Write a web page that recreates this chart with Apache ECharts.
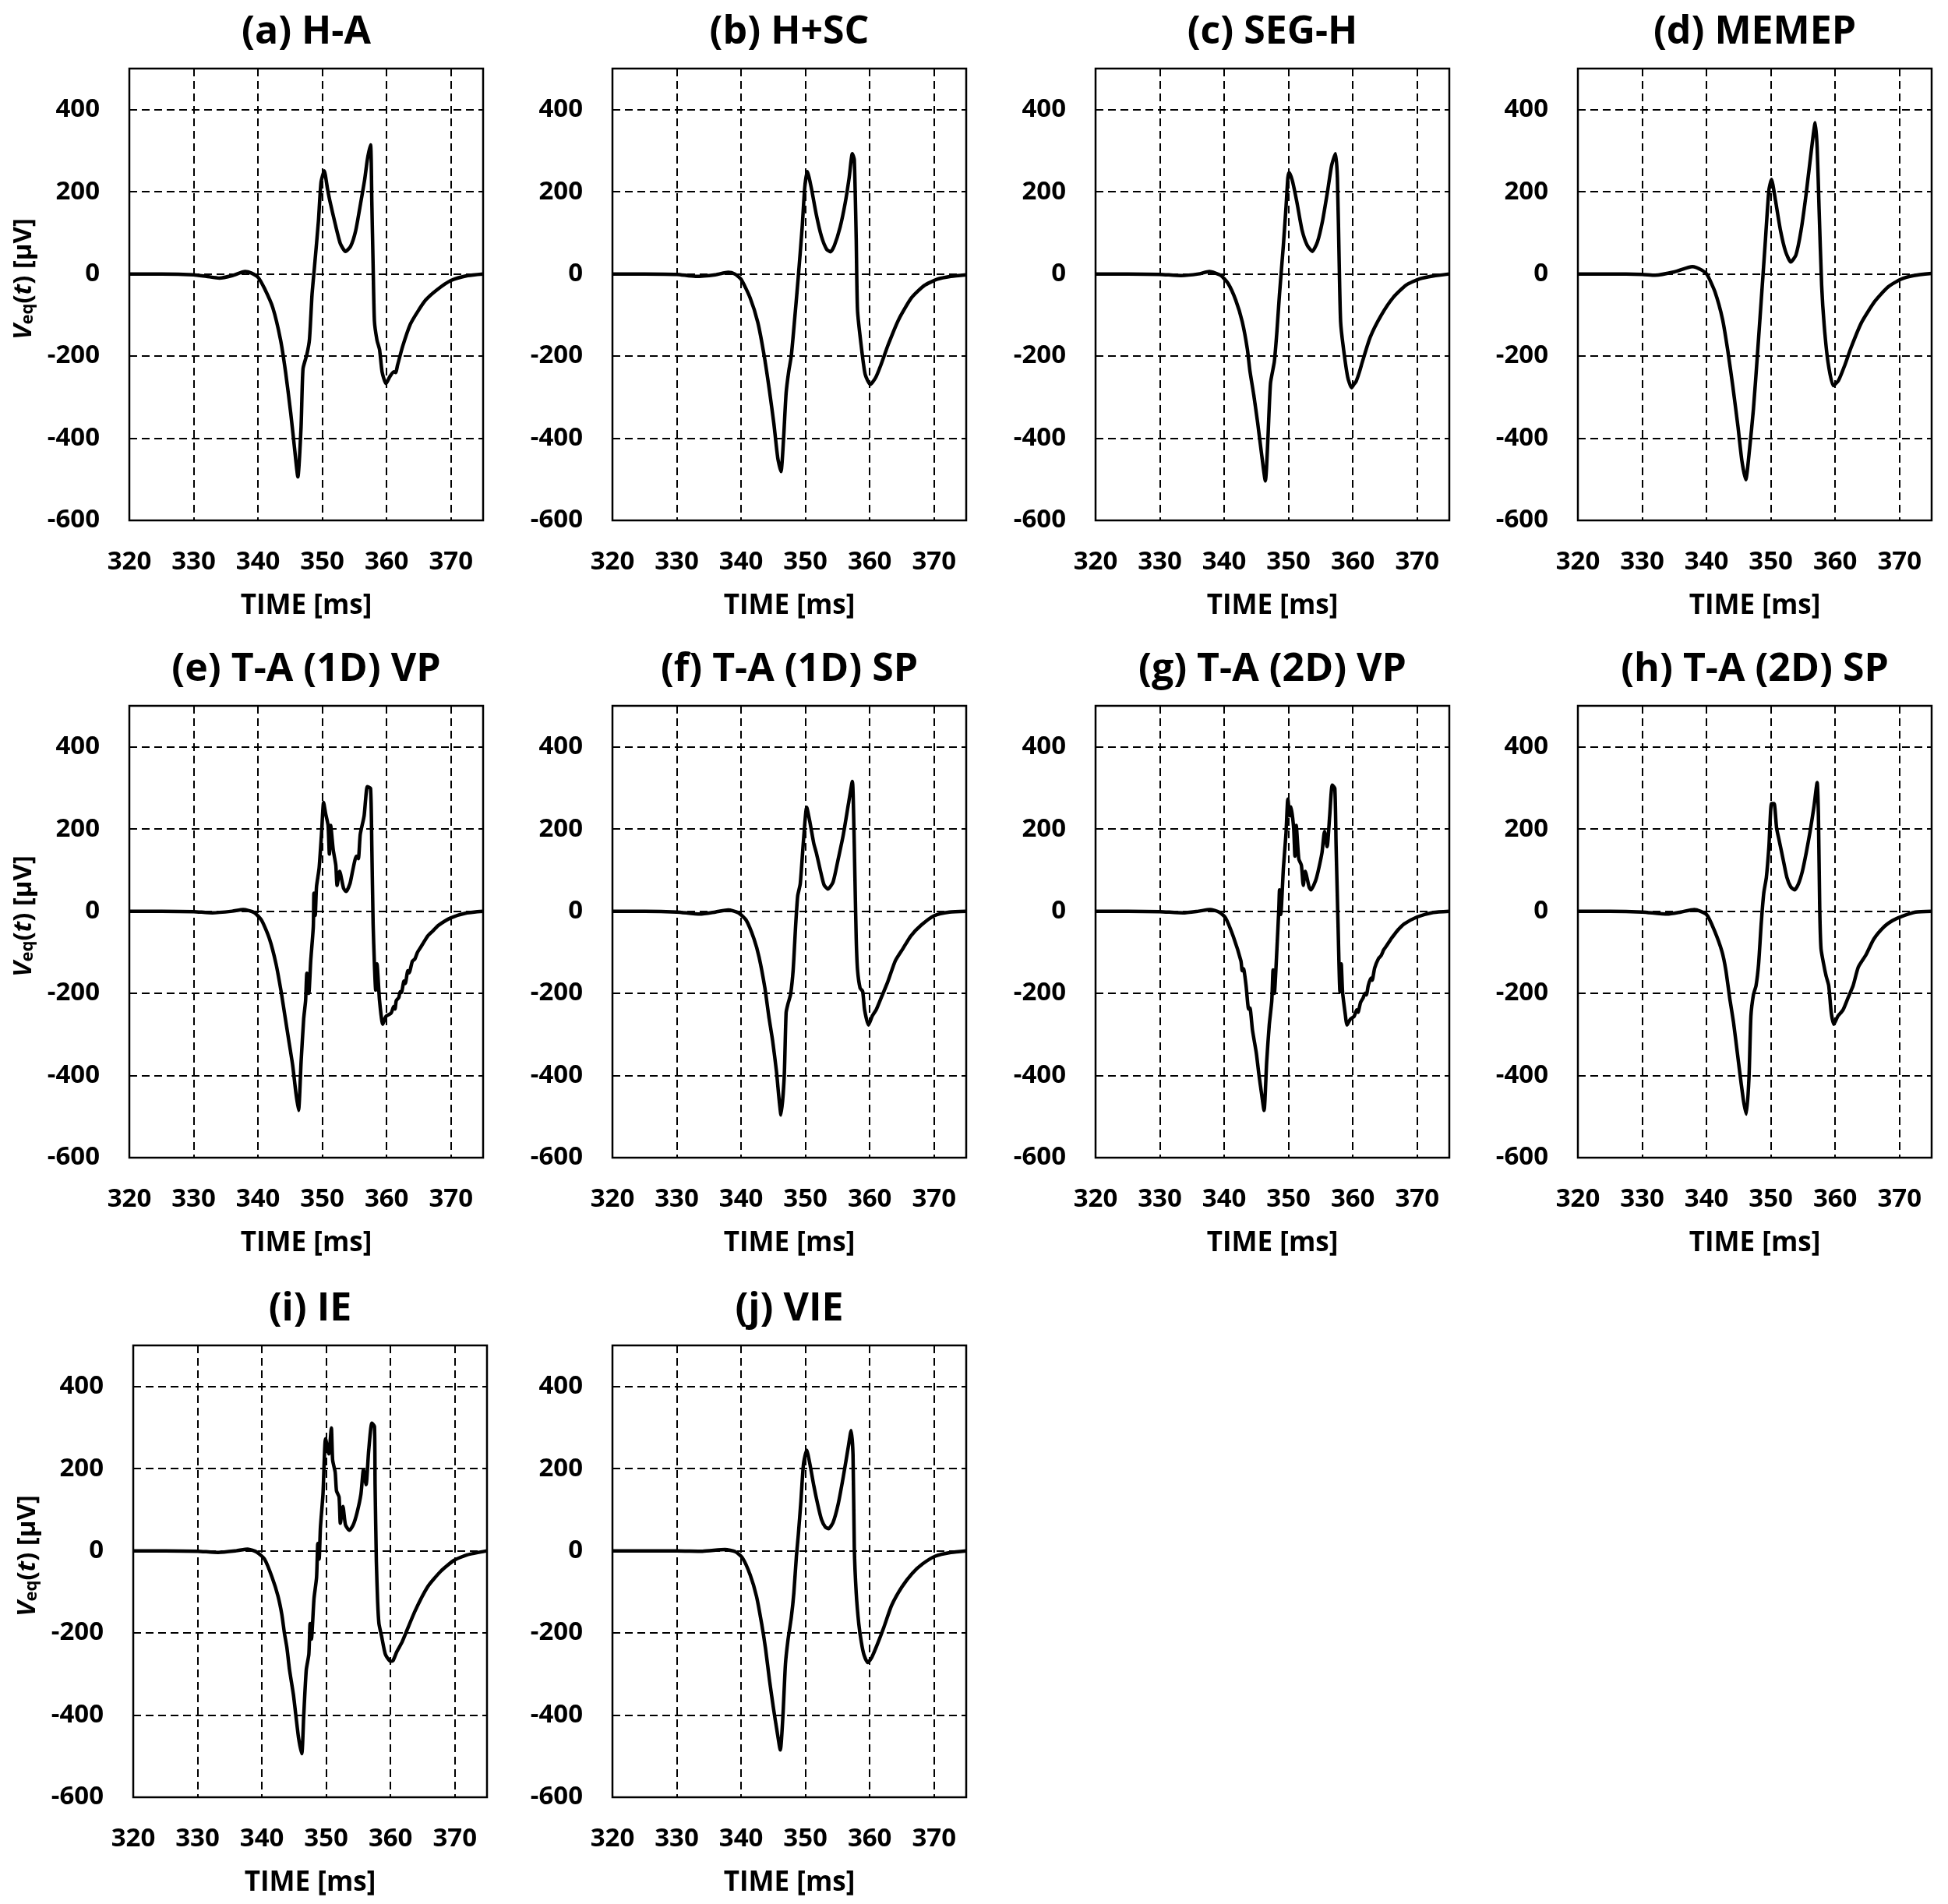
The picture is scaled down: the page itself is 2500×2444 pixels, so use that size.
<!DOCTYPE html>
<html>
<head>
<meta charset="utf-8">
<title>Veq(t) waveforms</title>
<script src="https://cdn.jsdelivr.net/npm/echarts@6/dist/echarts.min.js"></script>
<style>
    html, body { margin: 0; padding: 0; background: #fff; }
    #main { width: 2500px; height: 2444px; }
</style>
</head>
<body>
<div id="main"></div>
<script>
    // tick labels
    var xTicks = [320, 330, 340, 350, 360, 370];
    var yTicks = [-600, -400, -200, 0, 200, 400];

    var panelTitles = ['(a) H-A', '(b) H+SC', '(c) SEG-H', '(d) MEMEP',
        '(e) T-A (1D) VP', '(f) T-A (1D) SP', '(g) T-A (2D) VP', '(h) T-A (2D) SP',
        '(i) IE', '(j) VIE'];

    // waveforms: [time ms, Veq uV]
    var wHA = [[320,0],[325,0],[330,-2],[332,-6],[334,-10],[336,-4],[338,6],[339,2],[340,-8],[341,-35],
        [342.3,-82],[343.5,-160],[344.3,-240],[345.1,-340],[345.7,-427],[346.2,-494],[346.7,-372],[347,-231],
        [347.6,-196],[348,-160],[348.4,-51],[348.8,20],[349.4,129],[349.8,223],[350.3,251],[350.8,208],
        [351.2,176],[352,122],[352.8,74],[353.6,55],[354.4,67],[355.2,106],[356,176],[356.6,231],[357,278],
        [357.5,314],[357.7,176],[357.9,20],[358.1,-114],[358.5,-161],[358.9,-184],[359.3,-239],[359.9,-267],
        [360.5,-250],[361.1,-238],[361.4,-240],[361.7,-222],[362.5,-176],[363.7,-122],[364.9,-90],
        [366.1,-63],[367.8,-39],[370,-16],[372.6,-4],[375,0]];

    var wHSC = [[320,0],[325,0],[330,-1],[332.9,-6],[336,-2],[338,4],[339,0],[340,-13],[341.4,-58],
        [342.6,-118],[343.6,-200],[344.4,-283],[345.1,-365],[345.7,-448],[346.2,-481],[346.6,-402],
        [347,-290],[347.4,-238],[347.8,-200],[348.2,-133],[348.9,-6],[349.5,114],[349.9,211],[350.3,249],
        [350.9,211],[351.7,144],[352.5,91],[353.3,60],[353.9,54],[354.5,69],[355.4,114],[356.2,174],
        [356.8,234],[357.3,293],[357.6,278],[357.9,84],[358.1,-88],[358.7,-178],[359.3,-245],[360.1,-269],
        [360.9,-253],[361.7,-223],[362.9,-171],[364.5,-111],[366.5,-58],[368.5,-28],[370.5,-13],
        [372.6,-6],[375,-2]];

    var wSEGH = [[320,0],[325,0],[330,-1],[333.3,-4],[336,0],[337.7,6],[339.4,-3],[340.6,-23],[341.8,-64],
        [342.8,-116],[343.6,-183],[344,-236],[344.6,-295],[345.2,-362],[345.8,-437],[346.4,-504],
        [346.8,-400],[347.2,-266],[347.8,-213],[348.2,-139],[348.6,-49],[349.2,70],[349.6,160],[349.9,234],
        [350.1,247],[350.6,227],[351.3,175],[352.1,107],[352.9,70],[353.7,55],[354.5,78],[355.3,130],
        [356.1,204],[356.7,264],[357.3,293],[357.6,234],[357.9,10],[358.1,-116],[358.5,-176],[359.2,-251],
        [359.8,-277],[360.2,-268],[360.5,-262],[361,-240],[361.5,-213],[362.7,-154],[364.4,-101],
        [366.3,-57],[368.3,-27],[370.4,-12],[372.5,-5],[375,0]];

    var wMEMEP = [[320,0],[325,0],[330,-1],[332,-3],[335,5],[337.8,18],[339.3,9],[340.1,-2],[341.3,-43],
        [342.5,-111],[343.3,-186],[344.1,-275],[344.9,-373],[345.5,-455],[346.1,-501],[346.7,-425],
        [347.3,-328],[347.9,-200],[348.5,-66],[349.1,69],[349.7,204],[350.1,230],[350.7,181],[351.5,106],
        [352.3,54],[353.1,29],[353.9,46],[354.7,106],[355.5,196],[356.3,301],[356.9,368],[357.2,308],
        [357.5,159],[357.9,-28],[358.3,-126],[358.9,-216],[359.7,-272],[360.5,-260],[361.5,-222],
        [362.5,-178],[364.1,-118],[366.2,-66],[368.2,-32],[370.2,-13],[372.2,-4],[375,1]];

    var wTA1VP = [[320,0],[325,0],[330,-1],[332.9,-4],[336,0],[337.7,4],[339.4,-3],[340.6,-23],[341.8,-68],
        [342.8,-128],[343.6,-196],[344.2,-256],[344.8,-316],[345.4,-376],[345.9,-443],[346.3,-485],
        [346.7,-368],[347.1,-263],[347.4,-218],[347.6,-151],[347.9,-200],[348.2,-121],[348.6,-38],
        [348.7,44],[348.9,-10],[349.1,60],[349.5,104],[349.9,194],[350.2,265],[350.5,239],[350.9,209],
        [351.1,139],[351.3,209],[351.7,149],[352.1,112],[352.3,63],[352.7,97],[353.3,56],[353.7,48],
        [354.3,67],[354.7,97],[355.3,134],[355.6,128],[355.9,187],[356.5,232],[357,303],[357.5,299],
        [357.7,157],[357.9,-31],[358.1,-128],[358.3,-192],[358.5,-128],[358.9,-218],[359.4,-275],
        [359.9,-256],[360.7,-248],[361.1,-232],[361.3,-238],[361.5,-218],[361.9,-210],[362.1,-196],
        [362.3,-198],[362.7,-170],[362.9,-176],[363.3,-145],[363.5,-150],[364,-122],[364.4,-116],
        [364.8,-100],[365.2,-90],[365.6,-80],[366.4,-60],[367.2,-48],[368,-35],[370,-16],[372.5,-4],[375,0]];

    var wTA1SP = [[320,0],[325,0],[330,-2],[333.6,-7],[336,-2],[338,3],[339.6,-4],[340.8,-22],[342,-67],
        [342.8,-112],[343.7,-187],[344.3,-255],[344.9,-315],[345.5,-390],[345.9,-457],[346.2,-496],
        [346.7,-405],[347,-247],[347.3,-225],[347.7,-202],[348.1,-142],[348.5,-30],[348.8,37],[349.2,67],
        [349.7,172],[350.2,253],[350.7,217],[351.3,165],[351.7,142],[352.3,101],[352.9,64],[353.5,54],
        [354.3,71],[355.1,127],[355.9,187],[356.7,262],[357.3,316],[357.5,232],[357.7,82],[357.9,-67],
        [358.1,-142],[358.5,-187],[358.9,-195],[359.2,-240],[359.8,-277],[360.4,-255],[361,-240],
        [361.8,-210],[362.8,-172],[364,-120],[365.2,-90],[366.4,-60],[368,-34],[370,-11],[372.4,-2],[375,0]];

    var wTA2VP = [[320,0],[325,0],[330,-1],[333.6,-4],[336,0],[337.8,4],[339.2,-2],[340.2,-16],[341.4,-61],
        [342.6,-121],[342.8,-145],[343,-140],[343.4,-181],[343.8,-238],[344,-236],[344.4,-290],[345,-346],
        [345.4,-398],[345.8,-443],[346.2,-485],[346.6,-368],[347,-278],[347.4,-218],[347.6,-143],
        [347.8,-200],[348.2,-91],[348.5,7],[348.6,52],[348.8,-8],[349.2,104],[349.6,187],[349.9,273],
        [350.2,232],[350.4,254],[350.8,202],[351,134],[351.2,209],[351.6,127],[352,112],[352.3,63],
        [352.6,97],[353.2,59],[353.5,52],[354.2,74],[354.6,97],[355.2,142],[355.6,194],[356,157],
        [356.4,232],[356.8,307],[357.2,299],[357.4,157],[357.7,-31],[358,-196],[358.2,-128],[358.4,-196],
        [358.8,-248],[359.1,-277],[359.6,-263],[360.2,-256],[360.6,-240],[360.8,-246],[361.2,-222],
        [361.6,-211],[361.9,-200],[362.1,-204],[362.4,-181],[362.8,-163],[363,-168],[363.4,-138],
        [364,-115],[364.4,-108],[364.8,-94],[365.2,-85],[366,-66],[366.4,-58],[367,-46],[368,-31],
        [370,-14],[372.5,-3],[375,0]];

    var wTA2SP = [[320,0],[325,0],[330,-2],[333.9,-7],[336,-2],[338.1,4],[340,-8],[341.2,-46],[342.4,-98],
        [343,-143],[343.6,-211],[344.2,-271],[344.8,-346],[345.4,-421],[345.8,-466],[346.2,-494],
        [346.6,-406],[346.9,-256],[347.3,-203],[347.7,-181],[348.1,-128],[348.5,-31],[348.9,44],
        [349.3,82],[349.7,157],[350.1,262],[350.5,262],[350.9,202],[351.3,172],[351.9,127],[352.5,82],
        [353.1,59],[353.7,52],[354.3,67],[354.9,97],[355.5,142],[356.1,194],[356.7,254],[357.2,313],
        [357.4,232],[357.6,7],[357.8,-91],[358.2,-128],[358.6,-158],[359,-181],[359.4,-248],[359.8,-275],
        [360.4,-256],[361.2,-241],[362,-211],[362.8,-181],[363.6,-136],[364.8,-106],[366,-68],
        [367.6,-38],[368.9,-23],[370.1,-14],[372.5,-2],[375,0]];

    var wIE = [[320,0],[325,0],[330,-1],[333.2,-4],[336,0],[337.8,4],[339.2,-3],[340.4,-20],[341.6,-65],
        [342.5,-110],[343.1,-155],[343.5,-200],[343.9,-237],[344.3,-290],[344.9,-350],[345.3,-403],
        [345.7,-455],[346.2,-494],[346.5,-403],[346.9,-290],[347.3,-252],[347.5,-177],[347.7,-215],
        [348.1,-117],[348.5,-65],[348.7,18],[348.9,-20],[349.1,56],[349.5,138],[349.9,273],[350.4,236],
        [350.8,299],[351,221],[351.4,191],[351.6,146],[352,131],[352.2,67],[352.6,108],[353,63],
        [353.6,50],[354.2,63],[354.8,93],[355.4,138],[355.8,198],[356.2,161],[356.6,243],[357.1,311],
        [357.5,303],[357.6,161],[357.8,-27],[358,-125],[358.2,-177],[358.6,-207],[359.2,-252],[360,-269],
        [360.4,-267],[361,-245],[361.8,-222],[363.8,-147],[365.8,-87],[367.8,-50],[369.9,-23],
        [371.9,-10],[375,0]];

    var wVIE = [[320,0],[325,0],[330,0],[334,-1],[337.5,3],[339.1,-2],[340.2,-17],[341.4,-58],[342.4,-111],
        [343.2,-178],[343.8,-238],[344.4,-313],[345,-380],[345.6,-440],[346.1,-485],[346.5,-403],
        [346.9,-275],[347.3,-216],[347.8,-163],[348.2,-103],[348.6,-13],[348.9,39],[349.3,121],
        [349.7,211],[350.2,245],[350.7,211],[351.3,159],[351.9,114],[352.5,76],[353.1,58],[353.6,54],
        [354.3,69],[355.1,114],[355.9,181],[356.7,256],[357.1,293],[357.4,234],[357.6,9],[357.9,-103],
        [358.3,-178],[358.7,-223],[359.1,-253],[359.7,-272],[360.3,-260],[361.1,-231],[362.2,-186],
        [363.4,-133],[365,-88],[366.6,-55],[368.2,-32],[370.2,-13],[372.6,-4],[375,0]];

    var panelData = [wHA, wHSC, wSEGH, wMEMEP, wTA1VP, wTA1SP, wTA2VP, wTA2SP, wIE, wVIE];

    (function () {
        var FONT = 'Open Sans';
        var colLeft = [166, 786, 1406, 2025];
        var rowTop = [88, 906, 1727];
        var boxW = 454, boxH = 580;

        function dashLine() {
            return {show: true, lineStyle: {color: '#000', width: 2, type: [10, 6]}};
        }
        function labelStyle(margin, ticks) {
            return {
                margin: margin, color: '#000', fontFamily: FONT, fontWeight: 'bold', fontSize: 33,
                formatter: function (v) { return ticks.indexOf(v) >= 0 ? String(v) : ''; }
            };
        }

        var grids = [], xAxes = [], yAxes = [], seriesList = [], titles = [];

        for (var i = 0; i < panelData.length; i++) {
            var row = Math.floor(i / 4), col = i % 4;
            var boxLeft = colLeft[col] + (i === 8 ? 5 : 0);
            var boxTop = rowTop[row];

            grids.push({
                left: boxLeft, top: boxTop, width: boxW, height: boxH,
                show: true, borderColor: '#000', borderWidth: 2.5
            });

            titles.push({
                text: panelTitles[i],
                left: boxLeft + boxW / 2, top: boxTop - 71,
                textAlign: 'center', padding: 0,
                textStyle: {fontFamily: FONT, fontWeight: 'bold', fontSize: 50, color: '#000'}
            });

            xAxes.push({
                gridIndex: i, type: 'value', min: 320, max: 375, interval: 10,
                axisLine: {show: false}, axisTick: {show: false},
                splitLine: dashLine(),
                axisLabel: labelStyle(37, xTicks),
                name: 'TIME [ms]', nameLocation: 'middle', nameGap: 93,
                nameTextStyle: {color: '#000', fontFamily: FONT, fontWeight: 'bold', fontSize: 35}
            });

            var ya = {
                gridIndex: i, type: 'value', min: -600, max: 500, interval: 200,
                axisLine: {show: false}, axisTick: {show: false},
                splitLine: dashLine(),
                axisLabel: labelStyle(38, yTicks)
            };
            if (col === 0) {
                ya.name = '{v|V}{s|eq}{n|(}{v|t}{n|) [μV]}';
                ya.nameLocation = 'middle';
                ya.nameRotate = 90;
                ya.nameGap = 119;
                ya.nameTextStyle = {
                    color: '#000', fontFamily: FONT, fontWeight: 'bold', fontSize: 33,
                    padding: [0, 0, 0, 40],
                    rich: {
                        v: {fontFamily: FONT, fontWeight: 'bold', fontStyle: 'italic', fontSize: 33, color: '#000'},
                        s: {fontFamily: FONT, fontWeight: 'bold', fontSize: 22, color: '#000', verticalAlign: 'bottom'},
                        n: {fontFamily: FONT, fontWeight: 'bold', fontSize: 33, color: '#000'}
                    }
                };
            }
            yAxes.push(ya);

            seriesList.push({
                type: 'line', xAxisIndex: i, yAxisIndex: i,
                data: panelData[i],
                symbol: 'none', showSymbol: false,
                smooth: 0.2,
                lineStyle: {color: '#000', width: 4.5, join: 'round'},
                z: 5
            });
        }

        var chart = echarts.init(document.getElementById('main'));
        chart.setOption({
            backgroundColor: '#fff',
            animation: false,
            title: titles,
            grid: grids,
            xAxis: xAxes,
            yAxis: yAxes,
            series: seriesList
        });
    })();
</script>
</body>
</html>
